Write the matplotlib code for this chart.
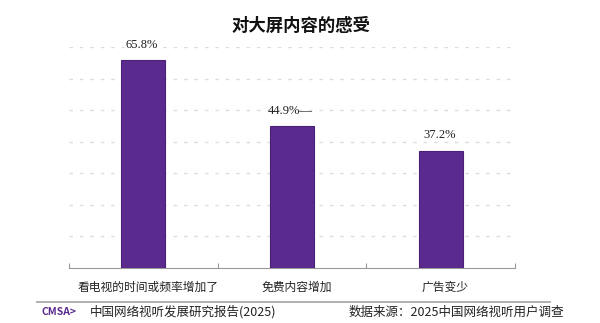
import matplotlib
matplotlib.use("Agg")
import matplotlib.pyplot as plt

categories = ["看电视的时间或频率增加了", "免费内容增加", "广告变少"]
values = [65.8, 44.9, 37.2]
value_labels = ["65.8%", "44.9%—", "37.2%"]
yticks = [10, 20, 30, 40, 50, 60, 70]

plt.rcParams['font.family'] = ['Noto Sans CJK SC', 'DejaVu Sans']

W, H = 600, 323
fig = plt.figure(figsize=(6, 3.23), dpi=100)
fig.patch.set_facecolor("white")

# plot area in pixels: x 69..515, y 47..268
ax = fig.add_axes([69 / W, 1 - 268 / H, (515 - 69) / W, (268 - 47) / H])
x = list(range(len(categories)))
ax.bar(x, values, width=0.296, color="#5b2a8e", edgecolor="#4a2078", linewidth=0.8, zorder=3)
ax.set_xlim(-0.5, 2.5)
ax.set_ylim(0, 70)

for v in yticks:
    ax.axhline(v, color="#dcdcdc", linestyle=(0, (2.5, 5)), linewidth=1.0, zorder=1)

for i, (v, lab) in enumerate(zip(values, value_labels)):
    ax.text(i - 0.01, v + 4.8, lab, ha="center", va="center", fontsize=9,
            family=["Liberation Serif", "DejaVu Serif"], color="#222222")

for s in ["top", "right", "left"]:
    ax.spines[s].set_visible(False)
ax.spines["bottom"].set_color("#999999")
ax.set_yticks([])
ax.set_xticks([-0.5, 0.5, 1.5, 2.5])
ax.set_xticklabels([])
ax.tick_params(axis="x", length=3.5, color="#999999", direction="in")
for i, c in enumerate(categories):
    ax.text(i + 0.03, -6.0, c, ha="center", va="center", fontsize=8.5, color="#222222")

fig.text(301 / W, 1 - 26 / H, "对大屏内容的感受", ha="center", va="center",
         fontsize=12.5, fontweight="bold", color="#111111")

# footer
fig.add_artist(plt.Line2D([37 / W, 550 / W], [1 - 302 / H, 1 - 302 / H],
                          color="#aaaaaa", linewidth=1.3))
fig.text(41 / W, 1 - 312 / H, "CMSA>", ha="left", va="center", fontsize=7.5,
         fontweight="bold", color="#5b2a8e")
fig.text(90 / W, 1 - 312 / H, "中国网络视听发展研究报告(2025)", ha="left", va="center",
         fontsize=9, color="#222222")
fig.text(564 / W, 1 - 312 / H, "数据来源：2025中国网络视听用户调查", ha="right", va="center",
         fontsize=9, color="#222222")

fig.savefig("out.png", dpi=100)
